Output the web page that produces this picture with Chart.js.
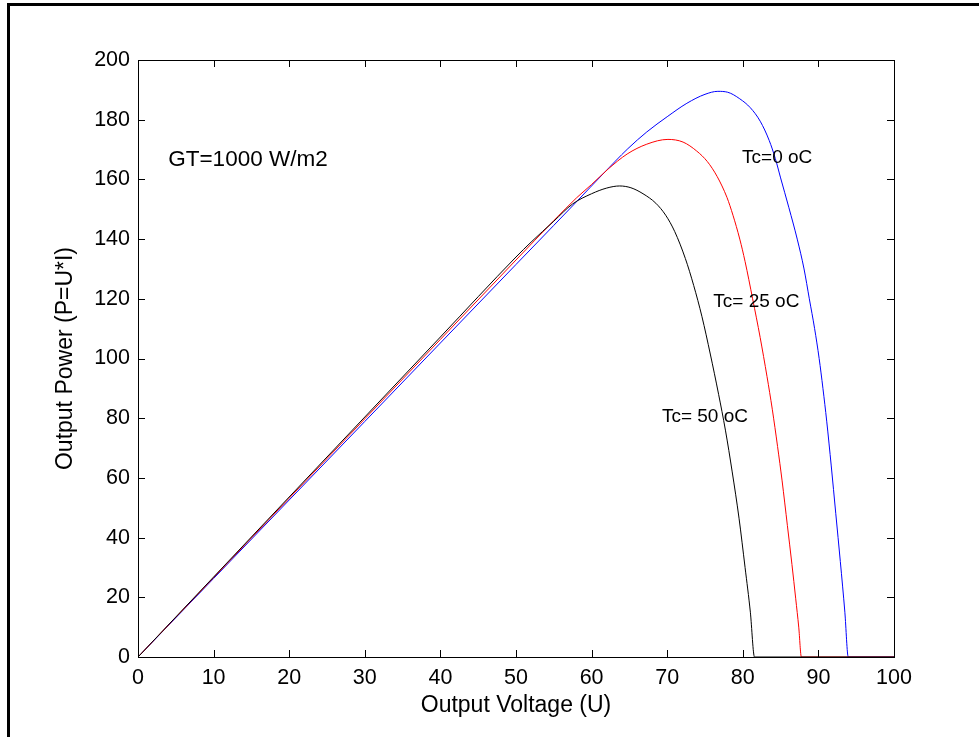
<!DOCTYPE html>
<html>
<head>
<meta charset="utf-8">
<script src="https://cdn.jsdelivr.net/npm/chart.js@4"></script>
<style>
  body { margin: 0; background: #fff; }
  canvas { display: block; }
</style>
</head>
<body>
<canvas id="myChart" width="979" height="737"></canvas>
<script>
// Tc = 50 oC (black)
const v50 = [0, 10, 20, 30, 40, 50, 52, 55, 57.5, 60, 62, 63.7, 65.2, 66.8, 68.5, 69.8, 71, 72.4, 73.5, 74.6, 75.7, 76.8, 77.7, 78.6, 79.5, 80.3, 81, 81.55, 100];
const p50 = [0, 26.8, 53.6, 80.4, 107.2, 134, 139, 146, 151.8, 155.2, 157.1, 157.8, 157.2, 155.2, 152, 148, 142.5, 133.5, 124.5, 114, 101.5, 88, 76, 62, 46.5, 30, 15, 0, 0];

// Tc = 25 oC (red)
const v25 = [0, 10, 20, 30, 40, 50, 55, 58, 60, 62.2, 64.7, 67.3, 70.1, 72.1, 73.9, 75.3, 76.6, 77.9, 78.7, 79.6, 80.3, 81.3, 82.3, 83.2, 83.9, 84.6, 85.2, 85.9, 86.5, 87, 87.4, 87.75, 100];
const p25 = [0, 26.6, 53.2, 79.8, 106.4, 133, 146.2, 153.8, 158.3, 163.5, 168.5, 171.8, 173.4, 172.5, 169.5, 166, 161, 154, 148, 140, 132.5, 120, 107, 94, 83, 70.5, 59, 44, 31, 19.5, 10, 0, 0];

// Tc = 0 oC (blue)
const v0 = [0, 10, 20, 30, 40, 50, 55, 58, 61.5, 64.8, 67.3, 70, 72.6, 75, 76.7, 78, 79.6, 81, 82.3, 83.5, 84.3, 85, 86.1, 87.2, 88.1, 88.8, 89.5, 90.1, 90.6, 91.1, 91.7, 92.3, 92.9, 93.5, 93.95, 100];
const p0 = [0, 26.3, 52.6, 78.9, 105.2, 131.5, 144.6, 152.5, 161.8, 170.3, 175.9, 181, 185.5, 188.5, 189.5, 189.2, 187, 184, 179.5, 173, 167, 160.5, 150.5, 140, 130, 120, 110, 100, 90, 79, 64, 48, 32, 15, 0, 0];

// text labels placed in data units
const labelText = ['GT=1000 W/m2', 'Tc=0 oC', 'Tc= 25 oC', 'Tc= 50 oC'];
const labelV = [4.0, 79.9, 76.1, 69.3];
const labelP = [164.5, 165.5, 117.3, 78.7];
const labelSize = [22.5, 19, 19, 19];

const xTicks = [0, 10, 20, 30, 40, 50, 60, 70, 80, 90, 100];
const yTicks = [0, 20, 40, 60, 80, 100, 120, 140, 160, 180, 200];

const toPoints = (xs, ys) => xs.map((x, i) => ({ x: x, y: ys[i] }));

const font = 'Liberation Sans, Arial, sans-serif';

const framePlugin = {
    id: 'frame',
    beforeDraw(chart) {
        const ctx = chart.ctx;
        ctx.save();
        ctx.fillStyle = '#000';
        // outer figure border
        ctx.fillRect(7, 3, 3, 740);
        ctx.fillRect(7, 3, 980, 3);
        ctx.restore();
    },
    afterDraw(chart) {
        const ctx = chart.ctx;
        const a = chart.chartArea;
        const xs = chart.scales.x, ys = chart.scales.y;
        ctx.save();
        ctx.strokeStyle = '#000';
        ctx.lineWidth = 1;
        ctx.strokeRect(Math.round(a.left) + 0.5, Math.round(a.top) + 0.5, Math.round(a.right - a.left), Math.round(a.bottom - a.top));
        ctx.beginPath();
        const len = 7;
        xTicks.forEach(t => {
            const px = Math.round(xs.getPixelForValue(t)) + 0.5;
            ctx.moveTo(px, a.bottom); ctx.lineTo(px, a.bottom - len);
            ctx.moveTo(px, a.top); ctx.lineTo(px, a.top + len);
        });
        yTicks.forEach(t => {
            const py = Math.round(ys.getPixelForValue(t)) + 0.5;
            ctx.moveTo(a.left, py); ctx.lineTo(a.left + len, py);
            ctx.moveTo(a.right, py); ctx.lineTo(a.right - len, py);
        });
        ctx.stroke();

        // annotations
        ctx.fillStyle = '#000';
        ctx.textAlign = 'left';
        ctx.textBaseline = 'alphabetic';
        labelText.forEach((txt, i) => {
            ctx.font = labelSize[i] + 'px ' + font;
            ctx.fillText(txt, xs.getPixelForValue(labelV[i]), ys.getPixelForValue(labelP[i]));
        });
        ctx.restore();
    }
};

const ctx = document.getElementById('myChart').getContext('2d');
new Chart(ctx, {
    type: 'line',
    data: {
        datasets: [{
            label: 'Tc= 50 oC',
            data: toPoints(v50, p50),
            borderColor: '#000000',
            borderWidth: 1
        }, {
            label: 'Tc= 25 oC',
            data: toPoints(v25, p25),
            borderColor: '#ff0000',
            borderWidth: 1
        }, {
            label: 'Tc=0 oC',
            data: toPoints(v0, p0),
            borderColor: '#0000ff',
            borderWidth: 1
        }]
    },
    options: {
        responsive: false,
        animation: false,
        elements: {
            point: { radius: 0 },
            line: { cubicInterpolationMode: 'monotone' }
        },
        layout: {
            padding: { left: 50, top: 60, right: 85, bottom: 18 }
        },
        scales: {
            x: {
                type: 'linear',
                min: 0,
                max: 100,
                afterBuildTicks: scale => { scale.ticks = xTicks.map(v => ({ value: v })); },
                afterFit: scale => { scale.height = 62; },
                grid: { display: false },
                border: { display: false },
                ticks: {
                    color: '#000',
                    padding: 0,
                    maxRotation: 0,
                    font: { family: font, size: 21.5 }
                },
                title: {
                    display: true,
                    text: 'Output Voltage (U)',
                    color: '#000',
                    padding: 0,
                    font: { family: font, size: 23 }
                }
            },
            y: {
                type: 'linear',
                min: 0,
                max: 200,
                afterBuildTicks: scale => { scale.ticks = yTicks.map(v => ({ value: v })); },
                afterFit: scale => { scale.width = 88; },
                grid: { display: false },
                border: { display: false },
                ticks: {
                    color: '#000',
                    padding: 0,
                    font: { family: font, size: 21.5 }
                },
                title: {
                    display: true,
                    text: 'Output Power (P=U*I)',
                    color: '#000',
                    padding: { top: 2, bottom: 0 },
                    font: { family: font, size: 23 }
                }
            }
        },
        plugins: {
            legend: { display: false },
            tooltip: { enabled: false }
        }
    },
    plugins: [framePlugin]
});
</script>
</body>
</html>
